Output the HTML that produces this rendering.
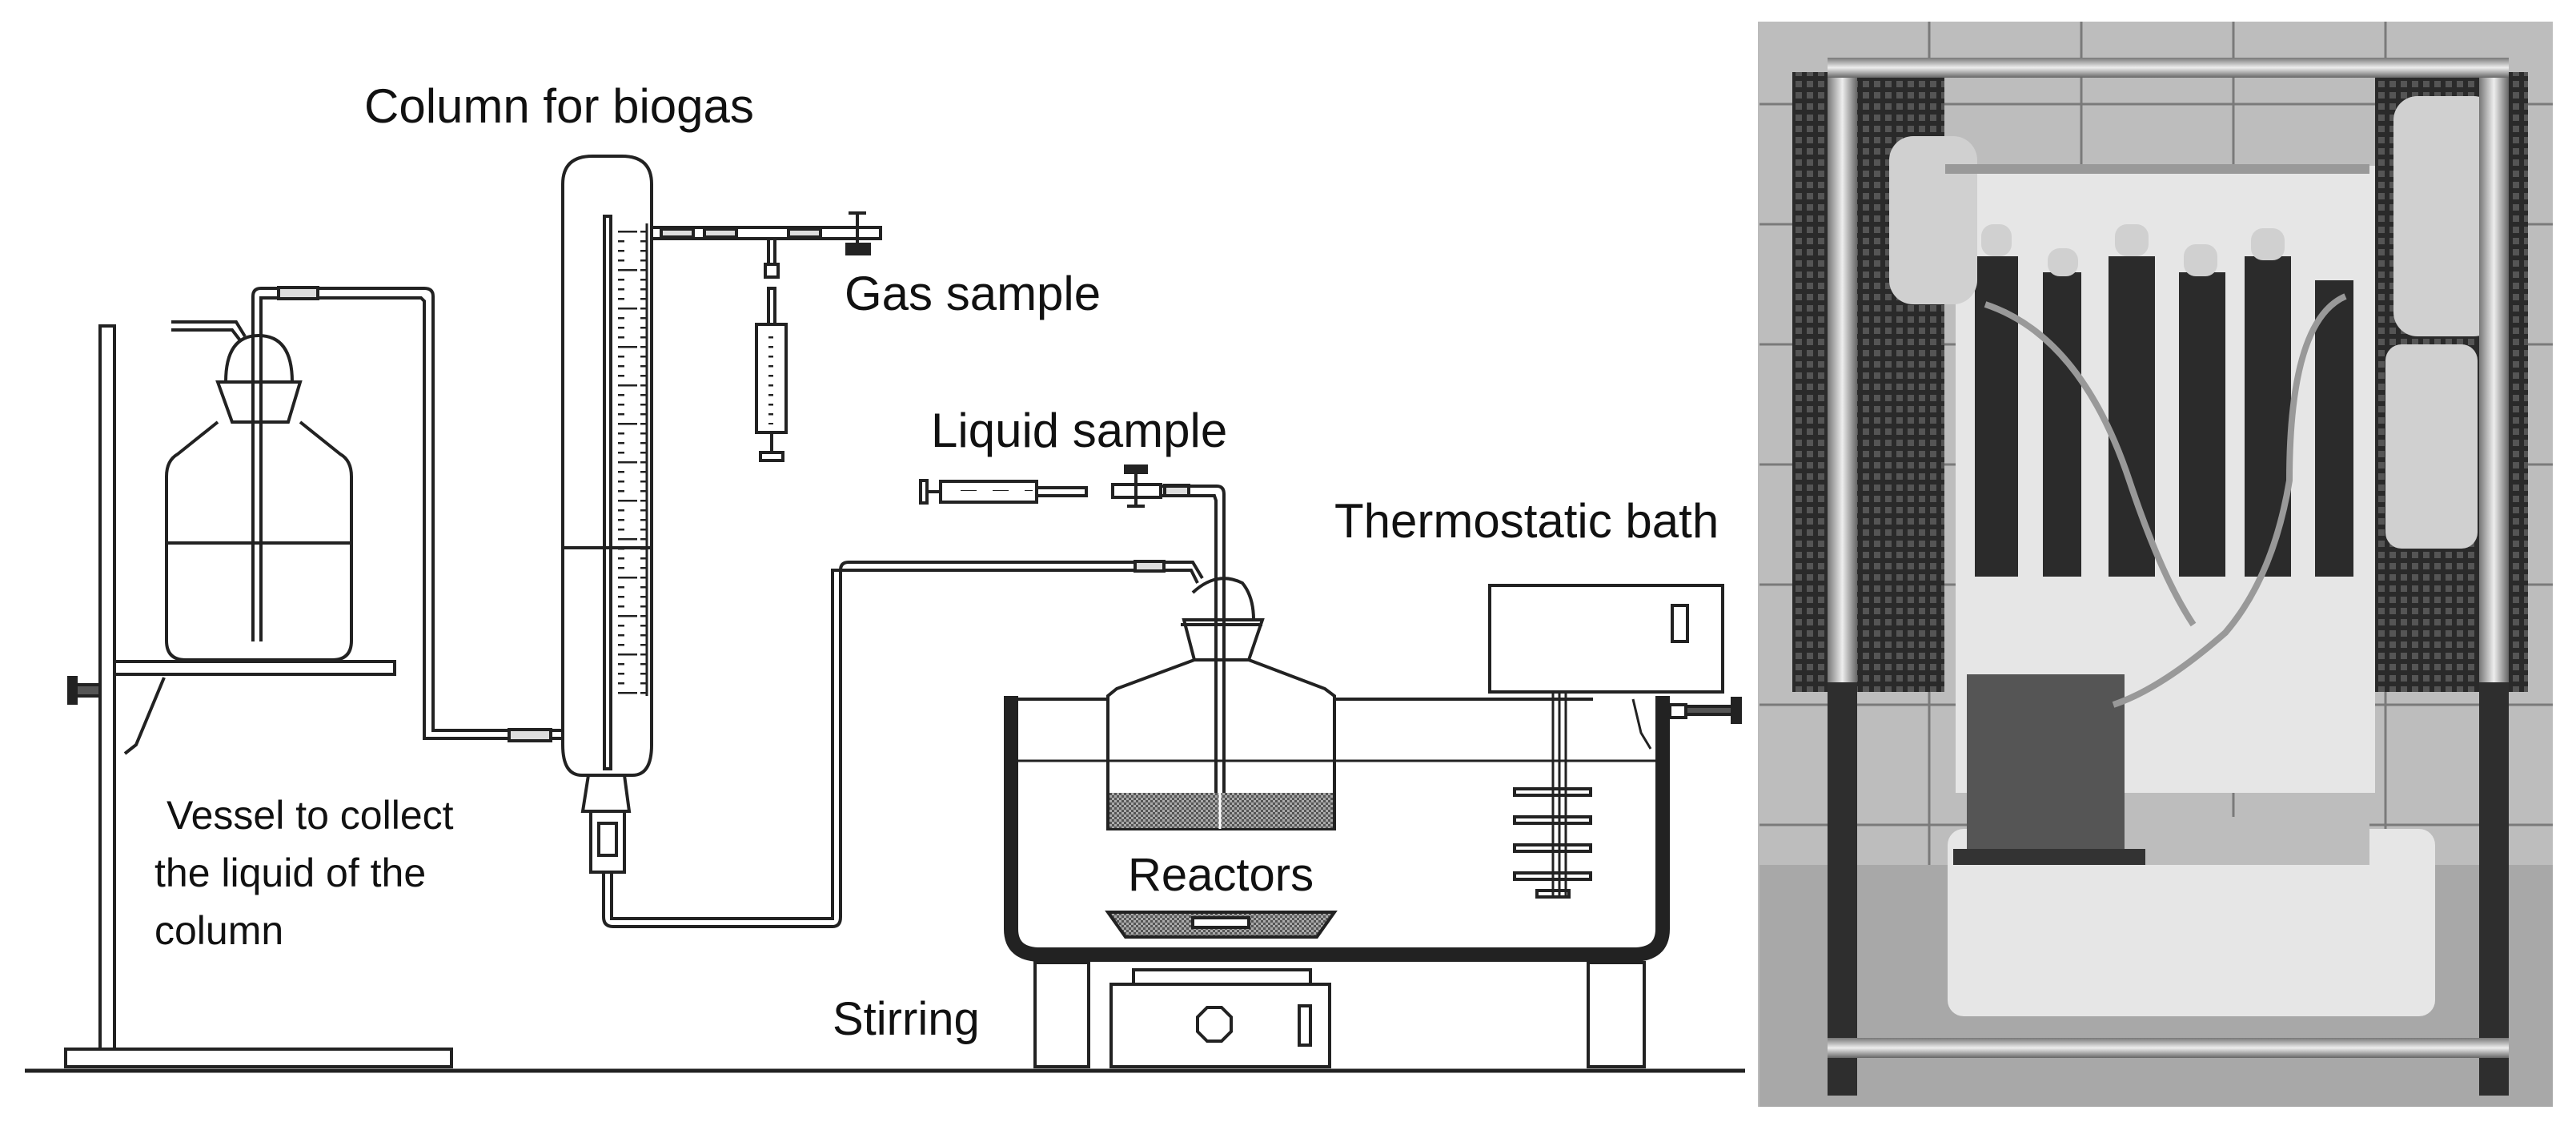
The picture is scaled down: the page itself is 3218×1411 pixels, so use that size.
<!DOCTYPE html>
<html><head><meta charset="utf-8"><style>
html,body{margin:0;padding:0;background:#fff;}
svg{display:block}
text{font-family:"Liberation Sans",sans-serif;fill:#111}
</style></head><body>
<svg width="3218" height="1411" viewBox="0 0 3218 1411" xmlns="http://www.w3.org/2000/svg">
<defs>
<pattern id="tk" width="40" height="12" patternUnits="userSpaceOnUse">
<line x1="0" y1="1" x2="20" y2="1" stroke="#222" stroke-width="3"/>
</pattern>
<pattern id="tk2" width="40" height="48" patternUnits="userSpaceOnUse">
<line x1="0" y1="1" x2="36" y2="1" stroke="#222" stroke-width="3"/>
</pattern>
<pattern id="ht" width="6" height="6" patternUnits="userSpaceOnUse">
<rect width="6" height="6" fill="#aaa"/><rect width="3" height="3" fill="#555"/><rect x="3" y="3" width="3" height="3" fill="#555"/>
</pattern>
<pattern id="mesh" width="14" height="14" patternUnits="userSpaceOnUse">
<rect width="14" height="14" fill="#2a2a2a"/><rect x="3" y="3" width="8" height="8" fill="#555"/>
</pattern>
<linearGradient id="met" x1="0" x2="1" y1="0" y2="0">
<stop offset="0" stop-color="#777"/><stop offset="0.5" stop-color="#eee"/><stop offset="1" stop-color="#666"/>
</linearGradient>
<linearGradient id="meth" x1="0" x2="0" y1="0" y2="1">
<stop offset="0" stop-color="#777"/><stop offset="0.5" stop-color="#eee"/><stop offset="1" stop-color="#666"/>
</linearGradient>
</defs>
<g fill="none" stroke="#222" stroke-width="4">
<line x1="31" y1="1337" x2="2180" y2="1337" stroke-width="5"/>
<rect x="125" y="407" width="18" height="903"/>
<rect x="82" y="1310" width="482" height="22"/>
<rect x="143" y="826" width="350" height="16"/>
<polyline points="205,846 170,930 156,941"/>
<rect x="95" y="855" width="30" height="14" fill="#555"/>
<rect x="86" y="846" width="9" height="32" fill="#222"/>
<path d="M272,527 L222,567 Q208,575 208,595 L208,800 Q208,824 232,824 L415,824 Q439,824 439,800 L439,595 Q439,575 425,567 L375,527"/>
<line x1="208" y1="678" x2="439" y2="678"/>
<path d="M272,477 L375,477 L360,527 L290,527 Z"/>
<path d="M282,477 Q282,419 323,419 Q365,419 365,477"/>
<polyline points="214,402 295,402 306,420"/>
<polyline points="214,412 290,412 300,425"/>
<path d="M316,801 L316,370 Q316,360 326,360 L530,360 Q541,360 541,370 L541,912 L703,912"/>
<path d="M326,801 L326,372 L526,372 L530,376 L530,922 L703,922"/>
<rect x="348" y="359" width="49" height="14" fill="#ddd"/>
<rect x="636" y="911" width="52" height="14" fill="#ddd"/>
<path d="M703,230 Q703,195 740,195 L777,195 Q814,195 814,230 L814,930 Q814,968 790,968 L727,968 Q703,968 703,930 Z"/>
<rect x="755" y="270" width="8" height="690"/>
<line x1="703" y1="684" x2="814" y2="684"/>
<rect x="772" y="279" width="36" height="590" fill="url(#tk)" stroke="none"/>
<rect x="772" y="279" width="36" height="590" fill="url(#tk2)" stroke="none"/>
<line x1="808" y1="279" x2="808" y2="869" stroke-width="3"/>
<path d="M735,968 L728,1013 L786,1013 L780,968"/>
<rect x="738" y="1013" width="42" height="76"/>
<rect x="748" y="1028" width="22" height="40"/>
<path d="M754,1089 L754,1145 Q754,1157 766,1157 L1040,1157 Q1050,1157 1050,1145 L1050,712 Q1050,702 1060,702 L1482,702"/>
<path d="M764,1089 L764,1147 L1040,1147 L1040,712 Q1040,712 1060,712 L1482,712"/>
<path d="M1482,702 L1490,702 L1502,722"/><path d="M1482,712 L1488,712 L1496,728"/>
<rect x="1418" y="701" width="36" height="12" fill="#ddd"/>
<rect x="814" y="284" width="286" height="14"/>
<rect x="826" y="286" width="40" height="10" fill="#ddd"/><rect x="880" y="286" width="40" height="10" fill="#ddd"/><rect x="985" y="286" width="40" height="10" fill="#ddd"/>
<line x1="960" y1="298" x2="960" y2="330"/><line x1="968" y1="298" x2="968" y2="330"/>
<rect x="956" y="330" width="16" height="16"/>
<rect x="960" y="360" width="8" height="45"/>
<rect x="945" y="405" width="37" height="135"/>
<rect x="950" y="415" width="16" height="115" fill="url(#tk)" stroke="none"/>
<line x1="964" y1="540" x2="964" y2="565"/>
<rect x="950" y="565" width="28" height="10"/>
<line x1="1071" y1="268" x2="1071" y2="305"/><line x1="1060" y1="266" x2="1082" y2="266"/>
<rect x="1058" y="305" width="28" height="12" fill="#222"/>
<rect x="1150" y="600" width="8" height="28"/>
<line x1="1158" y1="614" x2="1175" y2="614"/>
<rect x="1175" y="601" width="120" height="26"/>
<rect x="1180" y="603" width="110" height="10" fill="url(#tk)" stroke="none"/>
<rect x="1295" y="609" width="62" height="10"/>
<rect x="1390" y="605" width="60" height="16"/>
<rect x="1406" y="582" width="26" height="8" fill="#222"/>
<line x1="1419" y1="590" x2="1419" y2="632"/><line x1="1408" y1="632" x2="1430" y2="632"/>
<rect x="1455" y="606" width="30" height="13" fill="#ddd"/>
<path d="M1450,607 L1520,607 Q1529,607 1529,617 L1529,1035"/>
<path d="M1450,619 L1517,619 L1519,625 L1519,1035"/>
<path d="M1490,740 Q1520,712 1552,728 Q1566,745 1566,774"/>
<path d="M1479,774 L1577,774 L1560,824 L1492,824 Z"/>
<line x1="1475" y1="780" x2="1577" y2="780"/>
<path d="M1492,824 L1395,860 L1384,869 L1384,1035 L1667,1035 L1667,869 L1655,860 L1560,824"/>
<rect x="1386" y="990" width="279" height="44" fill="url(#ht)" stroke="none"/>
<line x1="1524" y1="990" x2="1524" y2="1035" stroke="#fff" stroke-width="3"/>
<path d="M1263,869 L1263,1160 Q1263,1192 1300,1192 L2040,1192 Q2077,1192 2077,1160 L2077,869" stroke-width="18"/>
<line x1="1272" y1="873" x2="1384" y2="873"/>
<line x1="1667" y1="873" x2="1990" y2="873"/>
<line x1="1272" y1="950" x2="2068" y2="950" stroke-width="3"/>
<polyline points="2040,873 2050,915 2062,935" stroke-width="3"/>
<path d="M1384,1139 L1667,1139 L1645,1170 L1406,1170 Z" fill="url(#ht)"/>
<rect x="1490" y="1146" width="70" height="12" fill="#fff"/>
<rect x="1416" y="1211" width="221" height="18"/>
<rect x="1388" y="1229" width="273" height="103"/>
<polygon points="1508,1258 1526,1258 1538,1270 1538,1288 1526,1300 1508,1300 1496,1288 1496,1270"/>
<rect x="1623" y="1256" width="14" height="49"/>
<rect x="1293" y="1202" width="67" height="130"/>
<rect x="1984" y="1202" width="70" height="130"/>
<rect x="1861" y="731" width="291" height="133"/>
<rect x="2089" y="756" width="19" height="45"/>
<line x1="1940" y1="864" x2="1940" y2="1121" stroke-width="3"/>
<line x1="1948" y1="864" x2="1948" y2="1121" stroke-width="3"/>
<line x1="1956" y1="864" x2="1956" y2="1121" stroke-width="3"/>
<rect x="1892" y="985" width="95" height="8"/><rect x="1892" y="1020" width="95" height="8"/>
<rect x="1892" y="1055" width="95" height="8"/><rect x="1892" y="1090" width="95" height="8"/>
<rect x="1920" y="1112" width="40" height="8"/>
<rect x="2086" y="880" width="20" height="16"/>
<rect x="2106" y="882" width="58" height="10" fill="#555"/>
<rect x="2164" y="872" width="10" height="30" fill="#222"/>
</g>
<text x="455" y="153" font-size="60">Column for biogas</text>
<text x="1055" y="387" font-size="60">Gas sample</text>
<text x="1163" y="558" font-size="60">Liquid  sample</text>
<text x="1667" y="671" font-size="60">Thermostatic bath</text>
<text x="1409" y="1112" font-size="58">Reactors</text>
<text x="1040" y="1292" font-size="58">Stirring</text>
<text x="208" y="1035" font-size="50">Vessel to collect</text>
<text x="193" y="1107" font-size="50">the liquid of the</text>
<text x="193" y="1179" font-size="50">column</text>
<line x1="2197" y1="27" x2="2197" y2="1382" stroke="#bbb" stroke-width="2"/>
<g>
<rect x="2198" y="27" width="991" height="1355" fill="#bdbdbd"/>
<g stroke="#7a7a7a" stroke-width="3">
<line x1="2198" y1="130" x2="3189" y2="130"/><line x1="2198" y1="280" x2="3189" y2="280"/>
<line x1="2198" y1="430" x2="3189" y2="430"/><line x1="2198" y1="580" x2="3189" y2="580"/>
<line x1="2198" y1="730" x2="3189" y2="730"/><line x1="2198" y1="880" x2="3189" y2="880"/>
<line x1="2198" y1="1030" x2="3189" y2="1030"/>
<line x1="2410" y1="27" x2="2410" y2="1100"/><line x1="2600" y1="27" x2="2600" y2="1100"/>
<line x1="2790" y1="27" x2="2790" y2="1100"/><line x1="2980" y1="27" x2="2980" y2="1100"/>
</g>
<rect x="2198" y="1080" width="991" height="302" fill="#a8a8a8"/>
<rect x="2443" y="207" width="524" height="783" fill="#e6e6e6"/>
<rect x="2239" y="90" width="190" height="774" fill="url(#mesh)"/>
<rect x="2967" y="90" width="191" height="774" fill="url(#mesh)"/>
<g fill="#2b2b2b">
<rect x="2467" y="320" width="54" height="400"/><rect x="2552" y="340" width="48" height="380"/>
<rect x="2634" y="320" width="58" height="400"/><rect x="2722" y="340" width="58" height="380"/>
<rect x="2804" y="320" width="58" height="400"/><rect x="2892" y="350" width="48" height="370"/>
</g>
<g fill="#d0d0d0">
<rect x="2475" y="280" width="38" height="40" rx="15"/><rect x="2558" y="310" width="38" height="35" rx="15"/>
<rect x="2642" y="280" width="42" height="40" rx="15"/><rect x="2728" y="305" width="42" height="40" rx="15"/>
<rect x="2812" y="285" width="42" height="40" rx="15"/>
<rect x="2360" y="170" width="110" height="210" rx="30"/><rect x="2990" y="120" width="130" height="300" rx="30"/>
<rect x="2980" y="430" width="115" height="255" rx="20"/>
</g>
<rect x="2433" y="1035" width="609" height="234" rx="20" fill="#e6e6e6"/>
<rect x="2520" y="1020" width="440" height="60" fill="#bdbdbd"/>
<rect x="2457" y="842" width="197" height="220" fill="#555"/>
<rect x="2440" y="1060" width="240" height="20" fill="#333"/>
<rect x="2283" y="72" width="37" height="1296" fill="#2e2e2e"/>
<rect x="3097" y="72" width="37" height="1296" fill="#2e2e2e"/>
<rect x="2283" y="72" width="37" height="780" fill="url(#met)"/>
<rect x="3097" y="72" width="37" height="780" fill="url(#met)"/>
<rect x="2283" y="72" width="851" height="25" fill="url(#meth)"/>
<rect x="2283" y="1296" width="851" height="25" fill="url(#meth)"/>
<rect x="2430" y="205" width="530" height="12" fill="#999"/>
<path d="M2480,380 Q2600,420 2660,600 Q2700,720 2740,780" stroke="#999" stroke-width="8" fill="none"/>
<path d="M2930,370 Q2860,400 2860,600 Q2840,720 2780,790 Q2700,860 2640,880" stroke="#999" stroke-width="8" fill="none"/>
</g>
</svg>
</body></html>
